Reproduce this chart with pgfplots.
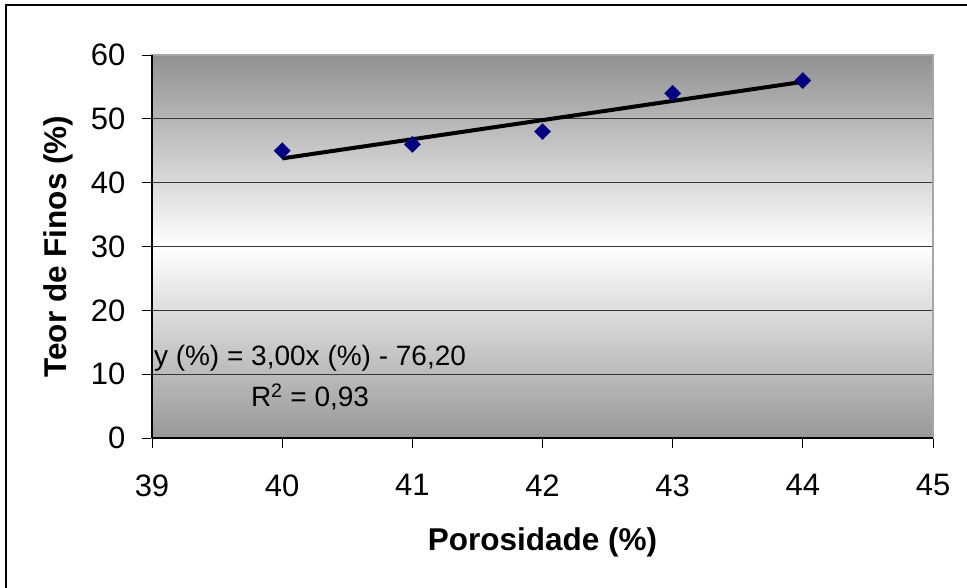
\documentclass[border=0pt]{standalone}
\usepackage{fontspec}
\setmainfont{Liberation Sans}
\usepackage{pgfplots}
\pgfplotsset{compat=1.18}
\definecolor{bgtop}{RGB}{145,145,145}
\definecolor{bgbot}{RGB}{152,152,152}
\definecolor{navy}{RGB}{0,0,128}
\definecolor{gridc}{RGB}{55,55,55}
\begin{document}
\begin{tikzpicture}[x=1pt,y=1pt]
\useasboundingbox (0pt,0pt) rectangle (967pt,588pt);
\draw[line width=1.2pt] (6pt,-20pt) rectangle (990pt,583pt);
\begin{axis}[
  at={(152pt,150pt)}, anchor=south west,
  width=781pt, height=383pt, scale only axis,
  xmin=39, xmax=45, ymin=0, ymax=60,
  xtick={39,40,41,42,43,44,45},
  ytick={0,10,20,30,40,50,60},
  xtick pos=bottom, ytick pos=left,
  tick align=outside,
  major tick length=10pt,
  tick style={black, line width=0.9pt},
  ymajorgrids,
  grid style={gridc, line width=1.1pt},
  axis line style={draw=gray!70, line width=1.5pt},
  axis background/.style={shade, top color=bgtop, bottom color=bgbot, middle color=white},
  ticklabel style={font=\fontsize{31}{36}\selectfont},
  /pgf/number format/assume math mode=true,
  xticklabel style={yshift=-23pt},
  yticklabel style={xshift=-13pt},
  xlabel={\textbf{Porosidade (\%)}},
  ylabel={\textbf{Teor de Finos (\%)}},
  label style={font=\fontsize{31.5}{36}\selectfont},
  xlabel style={at={(axis description cs:0.5,0)}, anchor=center, yshift=-104pt},
  ylabel style={at={(axis description cs:0,0.5)}, anchor=center, yshift=94pt},
  clip=false,
]
\addplot[only marks, mark=square*, mark size=5.7pt, mark options={fill=navy, draw=navy, rotate=45}]
  coordinates {(40,45) (41,46) (42,48) (43,54) (44,56)};
\addplot[black, line width=4pt, no marks] coordinates {(40,43.8) (44,55.8)};
\draw[black, line width=1.5pt] (rel axis cs:0,0) -- (rel axis cs:0,1);
\draw[black, line width=1.5pt] (rel axis cs:0,0) -- (rel axis cs:1,0);
\node[align=center, font=\fontsize{28}{41}\selectfont, anchor=center] at (axis cs:40.214,9.5)
  {y (\%) = 3,00x (\%) - 76,20\\R\textsuperscript{2} = 0,93};
\end{axis}
\end{tikzpicture}
\end{document}
